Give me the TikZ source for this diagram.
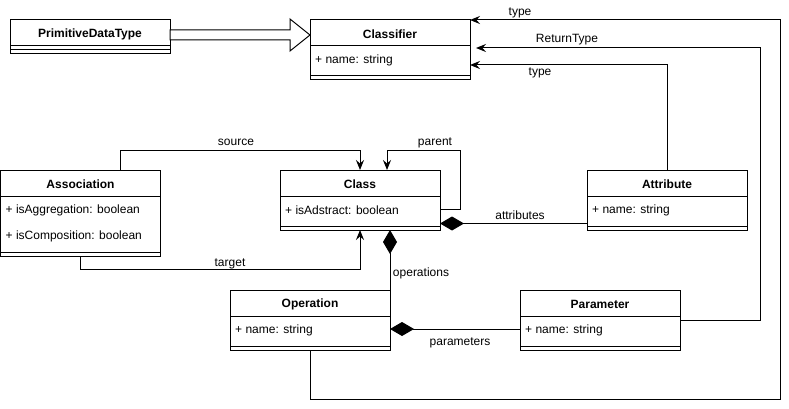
\documentclass[tikz,border=0pt]{standalone}
\usepackage{fontspec}
\setmainfont{Liberation Sans}
\usetikzlibrary{arrows.meta,calc}
\begin{document}
\begin{tikzpicture}[x=1pt,y=-1pt, font=\fontsize{12}{14}\selectfont,
  box/.style={draw, line width=1pt, fill=white, minimum width=160pt, anchor=north west, inner sep=0pt, outer sep=0pt},
  ttl/.style={font=\fontsize{12}{14}\selectfont\bfseries, inner sep=0pt, yshift=-1pt},
  attr/.style={anchor=west, inner sep=0pt, yshift=-1.5pt},
  sepline/.style={line width=1pt},
  arr/.style={line width=1pt, -{Stealth[length=10pt,width=8pt,inset=3.5pt]}},
  comp/.style={line width=1pt, {Diamond[length=24pt,width=14pt]}-},
  lbl/.style={inner sep=0pt, yshift=-1.5pt},
  ]
\useasboundingbox (0,0) rectangle (789,409);

% PrimitiveDataType
\node[box, minimum height=34pt] (pdt) at (10,20) {};
\node[ttl] (pdtT) at ([yshift=-13pt]pdt.north) {PrimitiveDataType};
\draw[sepline] ([yshift=-26pt]pdt.north west) -- ([yshift=-26pt]pdt.north east);
\draw[sepline] ([yshift=4pt]pdt.south west) -- ([yshift=4pt]pdt.south east);

% Classifier
\node[box, minimum height=60pt] (clf) at (310,20) {};
\node[ttl] (clfT) at ([yshift=-13pt]clf.north) {Classifier};
\draw[sepline] ([yshift=-26pt]clf.north west) -- ([yshift=-26pt]clf.north east);
\node[attr] (clfA) at ([xshift=5pt,yshift=-39pt]clf.north west) {+ name: string};
\draw[sepline] ([yshift=4pt]clf.south west) -- ([yshift=4pt]clf.south east);

% Association
\node[box, minimum height=86pt] (asc) at (0.5,170) {};
\node[ttl] (ascT) at ([yshift=-13pt]asc.north) {Association};
\draw[sepline] ([yshift=-26pt]asc.north west) -- ([yshift=-26pt]asc.north east);
\node[attr] (ascA) at ([xshift=5pt,yshift=-39pt]asc.north west) {+ isAggregation: boolean};
\node[attr] (ascB) at ([xshift=5pt,yshift=-65pt]asc.north west) {+ isComposition: boolean};
\draw[sepline] ([yshift=4pt]asc.south west) -- ([yshift=4pt]asc.south east);

% Class
\node[box, minimum height=60pt] (cls) at (280,170) {};
\node[ttl] (clsT) at ([yshift=-13pt]cls.north) {Class};
\draw[sepline] ([yshift=-26pt]cls.north west) -- ([yshift=-26pt]cls.north east);
\node[attr] (clsA) at ([xshift=5pt,yshift=-39pt]cls.north west) {+ isAdstract: boolean};
\draw[sepline] ([yshift=4pt]cls.south west) -- ([yshift=4pt]cls.south east);

% Attribute
\node[box, minimum height=60pt] (att) at (587,170) {};
\node[ttl] (attT) at ([yshift=-13pt]att.north) {Attribute};
\draw[sepline] ([yshift=-26pt]att.north west) -- ([yshift=-26pt]att.north east);
\node[attr] (attA) at ([xshift=5pt,yshift=-39pt]att.north west) {+ name: string};
\draw[sepline] ([yshift=4pt]att.south west) -- ([yshift=4pt]att.south east);

% Operation
\node[box, minimum height=60pt] (op) at (230,290) {};
\node[ttl] (opT) at ([yshift=-13pt]op.north) {Operation};
\draw[sepline] ([yshift=-26pt]op.north west) -- ([yshift=-26pt]op.north east);
\node[attr] (opA) at ([xshift=5pt,yshift=-39pt]op.north west) {+ name: string};
\draw[sepline] ([yshift=4pt]op.south west) -- ([yshift=4pt]op.south east);

% Parameter
\node[box, minimum height=60pt] (par) at (520,290) {};
\node[ttl] (parT) at ([yshift=-13pt]par.north) {Parameter};
\draw[sepline] ([yshift=-26pt]par.north west) -- ([yshift=-26pt]par.north east);
\node[attr] (parA) at ([xshift=5pt,yshift=-39pt]par.north west) {+ name: string};
\draw[sepline] ([yshift=4pt]par.south west) -- ([yshift=4pt]par.south east);

% generalization (hollow block arrow)
\draw[line width=1pt, fill=white] ([yshift=-10pt]pdt.north east) -- ([xshift=-20pt,yshift=-10pt]clf.north west) -- ([xshift=-20pt,yshift=1pt]clf.north west) -- ([yshift=-15pt]clf.north west) -- ([xshift=-20pt,yshift=-31pt]clf.north west) -- ([xshift=-20pt,yshift=-20pt]clf.north west) -- ([yshift=-20pt]pdt.north east) -- cycle;

% source
\draw[arr] ([xshift=40pt]asc.north) -- ++(0,-20) -| (cls.north);
% target
\draw[arr] (asc.south) -- ++(0,13) -| (cls.south);
% parent
\draw[arr] ([yshift=-9pt]cls.east) -- ++(20,0) |- ([xshift=27pt,yshift=20pt]cls.north) -- ([xshift=27pt]cls.north);
% attributes
\draw[comp] ([yshift=-23.5pt]cls.east) -- ([yshift=-23.5pt]att.west);
% operations
\draw[comp] ([xshift=30pt]cls.south) -- (op.north east);
% parameters
\draw[comp] ([yshift=-9pt]op.east) -- ([yshift=-9pt]par.west);
% ReturnType
\draw[arr] (par.east) -- ++(80,0) |- ([xshift=6pt,yshift=2pt]clf.east);
% attribute type
\draw[arr] (att.north) |- ([yshift=-15pt]clf.east);
% operation type
\draw[arr] (op.south) -- ++(0,49) -| ++(470,-379) -- (clf.north east);

% labels
\node[lbl] (lType1) at (520,11) {type};
\node[lbl] (lRet) at (567,38) {ReturnType};
\node[lbl] (lType2) at (540,71) {type};
\node[lbl] (lSrc) at (236,141) {source};
\node[lbl] (lPar) at (435,141) {parent};
\node[lbl] (lAtt) at (520,214) {attributes};
\node[lbl] (lTgt) at (230,262) {target};
\node[lbl] (lOps) at (421,272) {operations};
\node[lbl] (lPrm) at (460,341) {parameters};
\end{tikzpicture}
\end{document}
